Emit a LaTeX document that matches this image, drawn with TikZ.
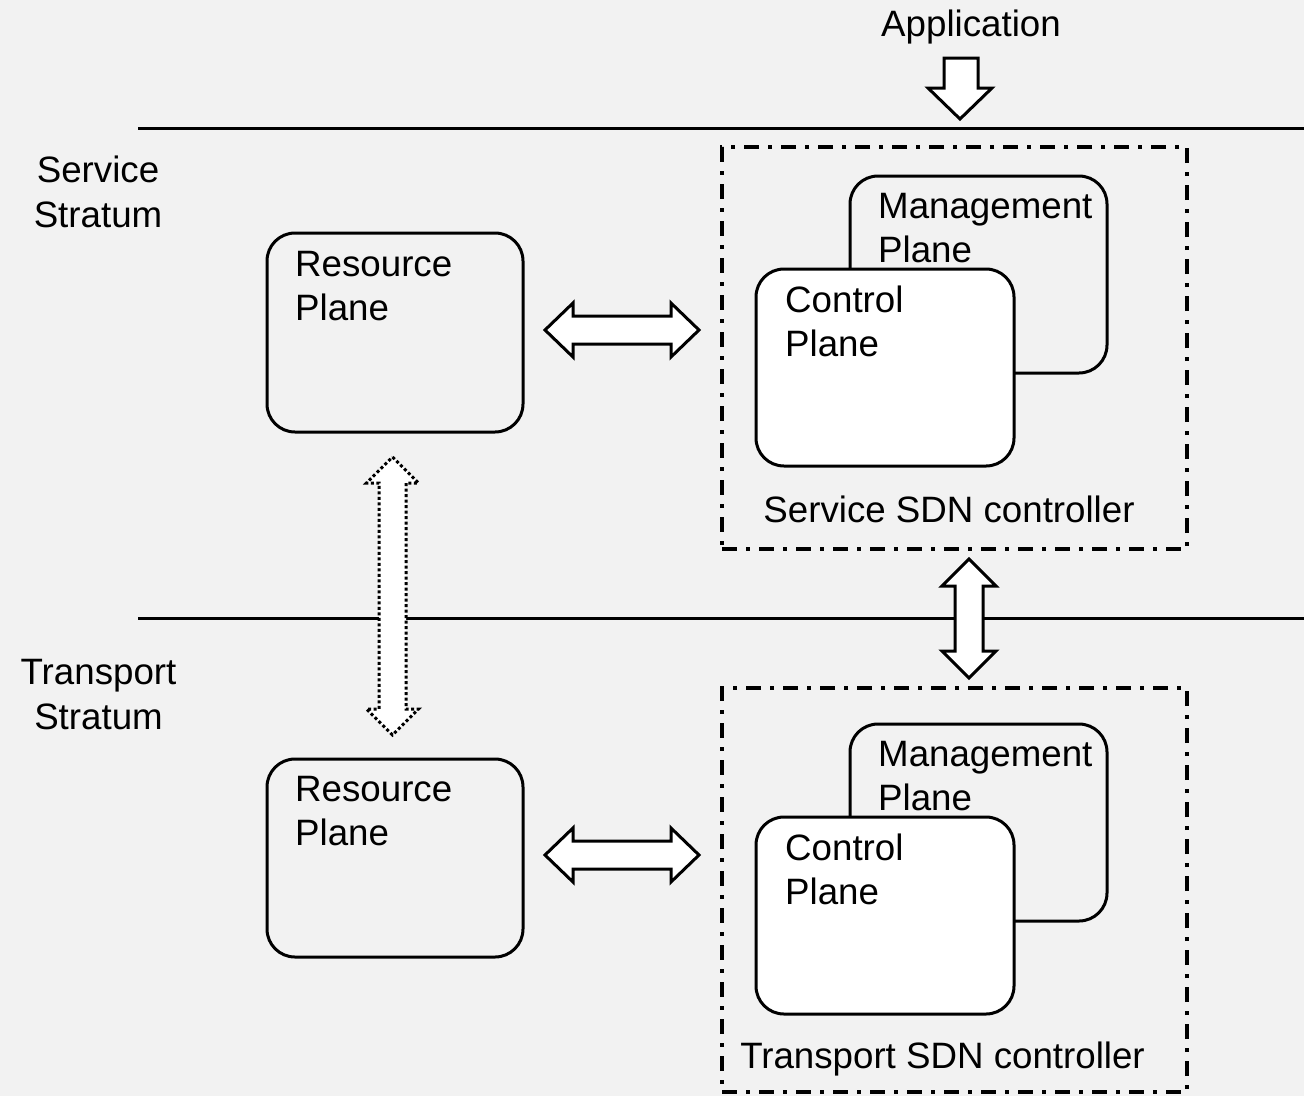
\documentclass[tikz,border=0pt]{standalone}
\usepackage{fontspec}
\setmainfont{Liberation Sans}
\begin{document}
\begin{tikzpicture}[x=1pt,y=-1pt,
  txt/.style={font=\fontsize{36.7}{44.5}\selectfont, inner sep=0pt, align=left},
  ctxt/.style={txt, align=center},
  plane/.style={draw, line width=3pt, rounded corners=28pt, inner sep=0pt},
  ctlbox/.style={draw, line width=4pt, dash pattern=on 15pt off 9pt on 4pt off 9pt, inner sep=0pt},
  barrow/.style={draw, line width=3pt, fill=white, line join=miter},
  dotarrow/.style={barrow, dash pattern=on 3pt off 2.5pt}]
\useasboundingbox (0,0) rectangle (1304,1096);
\fill[black!5] (0,0) rectangle (1304,1096);
% strata lines
\coordinate (l1a) at (138,128); \coordinate (l1b) at (1304,128);
\coordinate (l2a) at (138,618); \coordinate (l2b) at (1304,618);
\draw[line width=3pt] (l1a) -- (l1b);
\draw[line width=3pt] (l2a) -- (l2b);
% labels (base anchor = baseline of the last line)
\node[ctxt, anchor=base] (app) at (971,36) {Application};
\node[ctxt, anchor=base] (ss) at (98,227) {Service\\Stratum};
\node[ctxt, anchor=base] (ts) at (98.5,729) {Transport\\Stratum};
% controller boxes
\node[ctlbox, minimum width=465pt, minimum height=402pt] (sctl) at (954.5,348) {};
\node[ctlbox, minimum width=465pt, minimum height=404pt] (tctl) at (954.5,890) {};
% resource planes
\node[plane, minimum width=256pt, minimum height=199pt] (rp1) at (395,332.5) {};
\node[plane, minimum width=256pt, minimum height=198pt] (rp2) at (395,858) {};
\node[txt, anchor=base west] (rp1t) at (295,320.5) {Resource\\Plane};
\node[txt, anchor=base west] (rp2t) at (295,845.5) {Resource\\Plane};
% management + control planes
\node[plane, minimum width=257pt, minimum height=197pt] (mp1) at (978.5,274.5) {};
\node[txt, anchor=base west] (mp1t) at (878,262.5) {Management\\Plane};
\node[plane, fill=white, minimum width=258pt, minimum height=197pt] (cp1) at (885,367.5) {};
\node[txt, anchor=base west] (cp1t) at (785,356.5) {Control\\Plane};
\node[plane, minimum width=257pt, minimum height=197pt] (mp2) at (978.5,822.5) {};
\node[txt, anchor=base west] (mp2t) at (878,810.5) {Management\\Plane};
\node[plane, fill=white, minimum width=258pt, minimum height=197pt] (cp2) at (885,915.5) {};
\node[txt, anchor=base west] (cp2t) at (785,904.5) {Control\\Plane};
\node[ctxt, anchor=base] (sctlt) at (949,522) {Service SDN controller};
\node[ctxt, anchor=base] (tctlt) at (942.5,1068) {Transport SDN controller};
% application arrow
\coordinate (a1) at (960,58);
\draw[barrow, shift={(a1)}] (-16,0) -- (18,0) -- (18,30) -- (32,30) -- (0,61) -- (-32,30) -- (-16,30) -- cycle;
% horizontal double arrows
\coordinate (h1) at (622,330);
\coordinate (h2) at (622,855);
\foreach \c in {h1,h2}
  \draw[barrow, shift={(\c)}] (-77,0) -- (-49,-27) -- (-49,-14) -- (49,-14) -- (49,-27) -- (77,0) -- (49,27) -- (49,14) -- (-49,14) -- (-49,27) -- cycle;
% vertical double arrow between controllers
\coordinate (v1) at (969,618.5);
\draw[barrow, shift={(v1)}] (0,-59.5) -- (27,-32.5) -- (14,-32.5) -- (14,32.5) -- (27,32.5) -- (0,59.5) -- (-27,32.5) -- (-14,32.5) -- (-14,-32.5) -- (-27,-32.5) -- cycle;
% dotted vertical double arrow between resource planes
\coordinate (v2) at (392.5,596);
\draw[dotarrow, shift={(v2)}] (0,-139) -- (26,-113) -- (13.5,-113) -- (13.5,113) -- (26,113) -- (0,139) -- (-26,113) -- (-13.5,113) -- (-13.5,-113) -- (-26,-113) -- cycle;
\end{tikzpicture}
\end{document}
